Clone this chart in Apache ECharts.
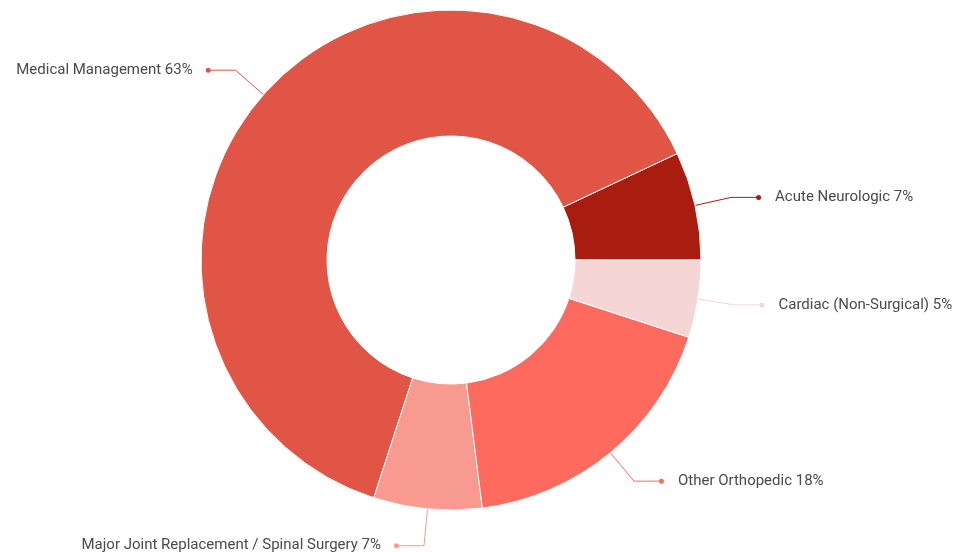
<!DOCTYPE html>
<html>
<head>
<meta charset="utf-8">
<script src="https://cdn.jsdelivr.net/npm/echarts@6/dist/echarts.min.js"></script>
<style>
  html, body { margin: 0; padding: 0; background: #fff; }
  #chart { width: 958px; height: 552px; }
</style>
</head>
<body>
<div id="chart"></div>
<script>
// slice data, counter-clockwise from 3 o'clock
const categories = [
  'Acute Neurologic',
  'Medical Management',
  'Major Joint Replacement / Spinal Surgery',
  'Other Orthopedic',
  'Cardiac (Non-Surgical)'
];
const shares = [7, 63, 7, 18, 5];
const colors = ['#a81d0f', '#e05546', '#f99a90', '#fe6b5e', '#f6d6d4'];

// which side of the donut each label sits on (from the slice mid angle)
let acc = 0;
const total = shares.reduce((a, b) => a + b, 0);
const sides = shares.map(v => {
  const mid = (acc + v / 2) / total * 2 * Math.PI;
  acc += v;
  return Math.cos(mid) < 0 ? 'left' : 'right';
});

const chart = echarts.init(document.getElementById('chart'));

const data = categories.map((name, i) => ({
  name,
  value: shares[i],
  itemStyle: { color: colors[i] },
  labelLine: { lineStyle: { color: colors[i], width: 1 } },
  label: {
    formatter: sides[i] === 'left' ? '{t|{b} {c}%}{dot| }' : '{dot| }{t|{b} {c}%}',
    rich: {
      t: {
        fontFamily: 'Roboto', fontSize: 15, color: '#4a4a4a',
        padding: sides[i] === 'left' ? [0, 13, 0, 0] : [0, 0, 0, 14]
      },
      dot: {
        width: 5, height: 5, borderRadius: 3, fontSize: 1,
        backgroundColor: colors[i]
      }
    }
  }
}));

chart.setOption({
  animation: false,
  series: [{
    type: 'pie',
    center: [451, 260],
    radius: [124, 250],
    startAngle: 0,
    clockwise: false,
    avoidLabelOverlap: false,
    itemStyle: { borderColor: '#fff', borderWidth: 1 },
    label: { show: true, position: 'outside', distanceToLabelLine: -3 },
    labelLine: { show: true, length: 37, length2: 28, smooth: false },
    emphasis: { disabled: true },
    data
  }]
});
</script>
</body>
</html>
